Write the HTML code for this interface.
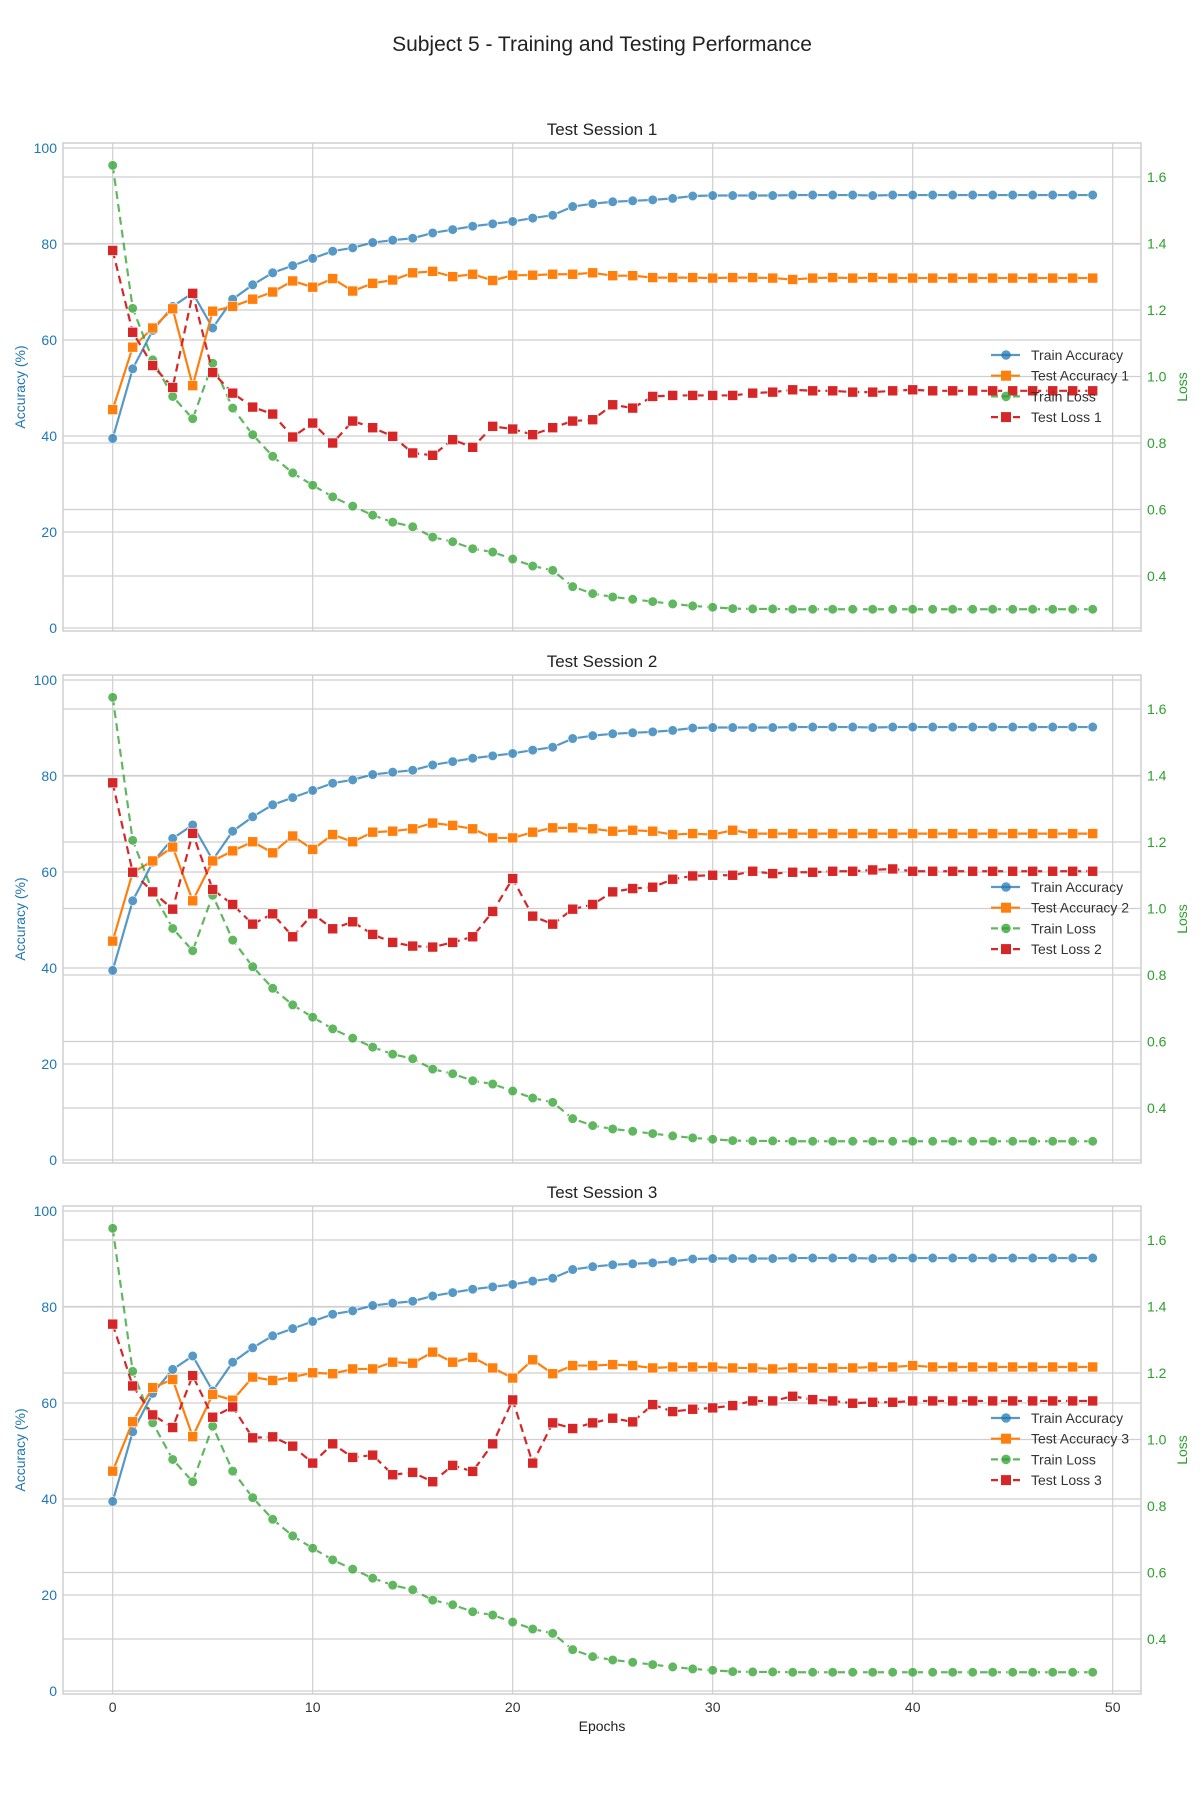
<!DOCTYPE html>
<html><head><meta charset="utf-8"><style>
body{margin:0;background:#fff;font-family:"Liberation Sans",sans-serif;}
svg{display:block}
</style></head><body>
<svg id="c" width="1200" height="1800" xmlns="http://www.w3.org/2000/svg">
<text x="602" y="51" text-anchor="middle" font-size="21" fill="#222">Subject 5 - Training and Testing Performance</text>
</svg>
<script>
const epochs = Array.from({length:50},(_,i)=>i);
const trainAcc = [39.5,54,62,67,69.8,62.5,68.5,71.5,74,75.5,77,78.5,79.2,80.3,80.8,81.2,82.3,83,83.7,84.2,84.7,85.4,86,87.8,88.4,88.8,89,89.2,89.5,90,90.1,90.1,90.1,90.1,90.2,90.2,90.2,90.2,90.1,90.2,90.2,90.2,90.2,90.2,90.2,90.2,90.2,90.2,90.2,90.2];
const trainLoss = [1.635,1.205,1.05,0.94,0.873,1.04,0.905,0.825,0.76,0.71,0.673,0.638,0.61,0.583,0.562,0.548,0.517,0.503,0.482,0.472,0.451,0.43,0.417,0.368,0.347,0.337,0.33,0.323,0.316,0.31,0.306,0.302,0.301,0.301,0.3,0.3,0.3,0.3,0.3,0.3,0.3,0.3,0.3,0.3,0.3,0.3,0.3,0.3,0.3,0.3];
const testAcc1 = [45.5,58.5,62.5,66.5,50.5,66,67,68.5,70,72.3,71,72.8,70.2,71.8,72.5,74,74.3,73.2,73.7,72.4,73.5,73.5,73.7,73.7,74,73.4,73.4,73,73,73,72.9,73,73,72.9,72.6,72.9,73,72.9,73,72.9,72.9,72.9,72.9,72.9,72.9,72.9,72.9,72.9,72.9,72.9];
const testLoss1 = [1.379,1.133,1.033,0.967,1.25,1.012,0.95,0.908,0.887,0.818,0.86,0.80,0.866,0.846,0.82,0.77,0.763,0.81,0.787,0.85,0.842,0.825,0.846,0.866,0.87,0.915,0.905,0.94,0.943,0.943,0.943,0.943,0.95,0.953,0.96,0.957,0.957,0.953,0.953,0.957,0.96,0.957,0.957,0.957,0.957,0.957,0.957,0.957,0.957,0.957];
const testAcc2 = [45.6,59.9,62.3,65.2,54,62.3,64.4,66.3,64,67.5,64.7,67.8,66.3,68.3,68.5,69,70.2,69.7,69,67.1,67.1,68.3,69.2,69.2,69,68.5,68.7,68.5,67.8,68,67.8,68.7,68,68,68,68,68,68,68,68,68,68,68,68,68,68,68,68,68,68];
const testLoss2 = [1.378,1.109,1.05,0.998,1.226,1.057,1.012,0.953,0.984,0.915,0.984,0.939,0.96,0.922,0.898,0.887,0.884,0.898,0.915,0.991,1.09,0.977,0.953,0.998,1.012,1.05,1.06,1.064,1.088,1.098,1.10,1.10,1.112,1.105,1.109,1.109,1.112,1.112,1.116,1.119,1.112,1.112,1.112,1.112,1.112,1.112,1.112,1.112,1.112,1.112];
const testAcc3 = [45.8,56.1,63.2,64.9,53,61.8,60.6,65.4,64.7,65.4,66.3,66.1,67.1,67.1,68.5,68.3,70.6,68.5,69.5,67.3,65.2,69,66.1,67.8,67.8,68,67.8,67.3,67.5,67.5,67.5,67.3,67.3,67.1,67.3,67.3,67.3,67.3,67.5,67.5,67.8,67.5,67.5,67.5,67.5,67.5,67.5,67.5,67.5,67.5];
const testLoss3 = [1.347,1.161,1.074,1.036,1.192,1.067,1.098,1.005,1.008,0.98,0.929,0.987,0.946,0.953,0.894,0.901,0.873,0.922,0.904,0.987,1.119,0.929,1.05,1.033,1.05,1.064,1.053,1.105,1.084,1.091,1.095,1.102,1.116,1.116,1.13,1.12,1.116,1.109,1.112,1.112,1.116,1.116,1.116,1.116,1.116,1.116,1.116,1.116,1.116,1.116];
const accTicks = [0,20,40,60,80,100];
const lossTicks = [0.4,0.6,0.8,1.0,1.2,1.4,1.6];
const xTicks = [0,10,20,30,40,50];
const sessions = [1,2,3];
const testAccs = [testAcc1,testAcc2,testAcc3];
const testLosses = [testLoss1,testLoss2,testLoss3];

const NS="http://www.w3.org/2000/svg";
const svg=document.getElementById('c');
function mk(tag,attrs,parent){const e=document.createElementNS(NS,tag);for(const k in attrs)e.setAttribute(k,attrs[k]);(parent||svg).appendChild(e);return e;}
const L=63,R=1141,H=488,tops=[143,675,1206];
const xs=v=>112.7+v*20;
const BLUE='#1f77b4',ORANGE='#ff7f0e',GREEN='#2ca02c',RED='#d62728';

sessions.forEach((s,pi)=>{
  const T=tops[pi],B=T+H;
  const ya=v=>T+5+(100-v)*4.8;
  const yl=v=>T+34+(1.6-v)*332.5;
  const g=mk('g',{});
  
  
  xTicks.forEach(t=>{mk('line',{x1:xs(t),x2:xs(t),y1:T,y2:B,stroke:'#cfcfcf','stroke-width':1.2},g);});
  accTicks.forEach(t=>{mk('line',{x1:L,x2:R,y1:ya(t),y2:ya(t),stroke:'#cfcfcf','stroke-width':1.2},g);
    const tx=mk('text',{x:L-6,y:ya(t)+5,'text-anchor':'end','font-size':14,fill:BLUE},g);tx.textContent=t;});
  lossTicks.forEach(t=>{mk('line',{x1:L,x2:R,y1:yl(t),y2:yl(t),stroke:'#cfcfcf','stroke-width':1.2},g);
    const tx=mk('text',{x:R+6,y:yl(t)+5,'font-size':14,fill:GREEN},g);tx.textContent=t.toFixed(1);});
  mk('rect',{x:L,y:T,width:R-L,height:H,fill:'none',stroke:'#cfcfcf','stroke-width':1.5},g);
  const tt=mk('text',{x:(L+R)/2,y:T-8,'text-anchor':'middle','font-size':17,fill:'#222'},g);tt.textContent='Test Session '+s;
  
  
  const yl1=mk('text',{x:0,y:0,'text-anchor':'middle','font-size':14,fill:BLUE,transform:`translate(25,${T+H/2}) rotate(-90)`},g);yl1.textContent='Accuracy (%)';
  
  
  const yl2=mk('text',{x:0,y:0,'text-anchor':'middle','font-size':14,fill:GREEN,transform:`translate(1187,${T+H/2}) rotate(-90)`},g);yl2.textContent='Loss';
  
  
  if(pi===2){xTicks.forEach(t=>{const tx=mk('text',{x:xs(t),y:B+18,'text-anchor':'middle','font-size':14,fill:'#333'},g);tx.textContent=t;});
    const xl=mk('text',{x:(L+R)/2,y:B+37,'text-anchor':'middle','font-size':14,fill:'#222'},g);xl.textContent='Epochs';
    
    }
  const series=[
    {d:trainAcc,y:ya,c:BLUE,m:'o',dash:null,op:0.75,n:'train-accuracy',label:'Train Accuracy'},
    {d:testAccs[pi],y:ya,c:ORANGE,m:'s',dash:null,op:1,n:'test-accuracy',label:'Test Accuracy '+s},
    {d:trainLoss,y:yl,c:GREEN,m:'o',dash:'8,5',op:0.75,n:'train-loss',label:'Train Loss'},
    {d:testLosses[pi],y:yl,c:RED,m:'s',dash:'8,5',op:1,n:'test-loss',label:'Test Loss '+s}];
  series.forEach(sr=>{
    const sg=mk('g',{opacity:sr.op},g);
    
    
    const pts=sr.d.map((v,i)=>xs(epochs[i])+','+sr.y(v)).join(' ');
    const a={points:pts,fill:'none',stroke:sr.c,'stroke-width':2.2};if(sr.dash)a['stroke-dasharray']=sr.dash;
    mk('polyline',a,sg);
    sr.d.forEach((v,i)=>{const cx=xs(epochs[i]),cy=sr.y(v);
      if(sr.m==='o')mk('circle',{cx,cy,r:4.8,fill:sr.c,stroke:'#fff','stroke-width':0.6},sg);
      else mk('rect',{x:cx-5,y:cy-5,width:10,height:10,fill:sr.c,stroke:'#fff','stroke-width':0.6},sg);});
  });
  const lg=mk('g',{},g);
  
  
  series.forEach((sr,k)=>{const y=T+212+k*20.7;
    const e=mk('g',{},lg);
    
    
    const a={x1:991,x2:1020,y1:y,y2:y,stroke:sr.c,'stroke-width':2.2,opacity:sr.op};if(sr.dash)a['stroke-dasharray']='7,4';
    mk('line',a,e);
    if(sr.m==='o')mk('circle',{cx:1006,cy:y,r:4.8,fill:sr.c,opacity:sr.op},e);
    else mk('rect',{x:1001,y:y-5,width:10,height:10,fill:sr.c},e);
    const tx=mk('text',{x:1031,y:y+5,'font-size':14,fill:'#333'},e);tx.textContent=sr.label;});
});
</script>
</body></html>
